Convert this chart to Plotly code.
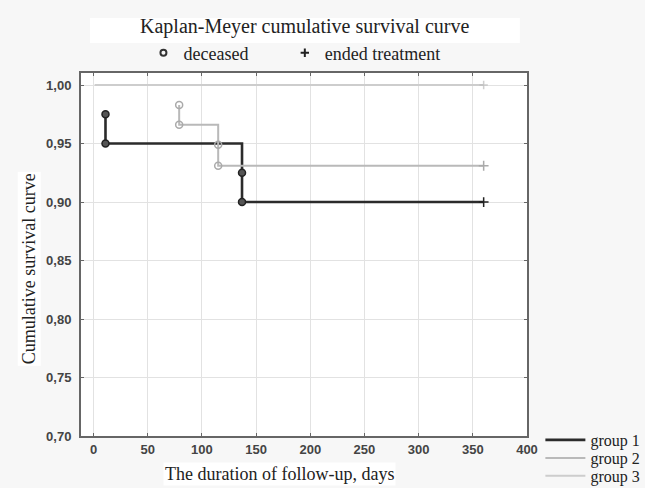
import plotly.graph_objects as go

# ---- data ----
g1_days = [11, 11, 137, 137, 360]
g1_surv = [0.975, 0.95, 0.925, 0.90, 0.90]
g1_sym = ["circle", "circle", "circle", "circle", "cross-thin"]

g2_days = [79, 79, 115, 115, 360]
g2_surv = [0.983, 0.966, 0.949, 0.931, 0.931]
g2_sym = ["circle-open", "circle-open", "circle-open", "circle-open", "cross-thin"]

g3_days = [1, 360]
g3_surv = [1.00, 1.00]
g3_sym = ["circle-open", "cross-thin"]
g3_size = [0, 6]

group_names = ["group 1", "group 2", "group 3"]
group_colors = ["#2b2b2b", "#b9b9b9", "#cdcdcd"]
group_widths = [2.6, 2, 2]
x_ticks = [0, 50, 100, 150, 200, 250, 300, 350, 400]
y_ticks = [0.70, 0.75, 0.80, 0.85, 0.90, 0.95, 1.00]

SERIF = "Liberation Serif"
SANS = "Liberation Sans"

fig = go.Figure()

fig.add_trace(go.Scatter(
    x=g1_days, y=g1_surv, mode="lines+markers", line_shape="hv",
    name=group_names[0], showlegend=False,
    line=dict(color=group_colors[0], width=group_widths[0]),
    marker=dict(symbol=g1_sym, size=7, color="#555555",
                line=dict(color="#222222", width=1.5)),
))
fig.add_trace(go.Scatter(
    x=g2_days, y=g2_surv, mode="lines+markers", line_shape="hv",
    name=group_names[1], showlegend=False,
    line=dict(color=group_colors[1], width=group_widths[1]),
    marker=dict(symbol=g2_sym, size=7, color="#aaaaaa",
                line=dict(color="#aaaaaa", width=1.5)),
))
fig.add_trace(go.Scatter(
    x=g3_days, y=g3_surv, mode="lines+markers", line_shape="hv",
    name=group_names[2], showlegend=False,
    line=dict(color=group_colors[2], width=group_widths[2]),
    marker=dict(symbol=g3_sym, size=g3_size, color="#bbbbbb",
                line=dict(color="#bbbbbb", width=1.5)),
))

# group key (lines only), one legend box per row
group_legends = ["legend", "legend2", "legend3"]
for name, col, w, lg in zip(group_names, group_colors, group_widths, group_legends):
    fig.add_trace(go.Scatter(
        x=[None], y=[None], mode="lines", name=name,
        line=dict(color=col, width=w), legend=lg,
    ))

# marker key (deceased / ended treatment)
fig.add_trace(go.Scatter(
    x=[None], y=[None], mode="markers", name="deceased",
    marker=dict(symbol="circle-open", size=6, color="#333333",
                line=dict(color="#333333", width=2)),
    legend="legend4",
))
fig.add_trace(go.Scatter(
    x=[None], y=[None], mode="markers", name="ended treatment",
    marker=dict(symbol="cross-thin", size=6, color="#222222",
                line=dict(color="#222222", width=2)),
    legend="legend5",
))

axis_common = dict(
    showgrid=True, gridcolor="#e2e2e2", gridwidth=1,
    showline=True, linecolor="#666666", linewidth=2, mirror="ticks",
    ticks="inside", ticklen=3, tickcolor="#666666",
    zeroline=False,
    tickfont=dict(family=SANS, size=13, color="#444444", weight="bold"),
)

def grp_legend(y):
    return dict(x=1.03, xanchor="left", y=y, yanchor="middle",
                bgcolor="rgba(0,0,0,0)", itemwidth=40,
                font=dict(family=SERIF, size=16, color="#222222"))

def key_legend(x):
    return dict(x=x, xanchor="left", y=1.055, yanchor="middle",
                bgcolor="rgba(0,0,0,0)",
                font=dict(family=SERIF, size=18, color="#222222"))

fig.update_layout(
    width=645, height=488,
    margin=dict(l=81, r=118, t=73, b=52, autoexpand=False),
    paper_bgcolor="#f7f7f7",
    plot_bgcolor="#ffffff",
    separators=", ",
    showlegend=True,
    xaxis=dict(range=[-11.6, 400], tickvals=x_ticks, **axis_common),
    yaxis=dict(range=[0.70, 1.0103], tickvals=y_ticks, tickformat=".2f",
               ticklabelstandoff=5, **axis_common),
    legend=grp_legend(-0.011),
    legend2=grp_legend(-0.0606),
    legend3=grp_legend(-0.110),
    legend4=key_legend(0.14),
    legend5=key_legend(0.457),
    shapes=[
        dict(type="rect", xref="paper", yref="paper", x0=0.02, x1=0.984, y0=1.0826, y1=1.1515,
             fillcolor="#ffffff", line=dict(width=0), layer="below"),
    ],
    annotations=[
        dict(text="Kaplan-Meyer cumulative survival curve", xref="paper", yref="paper",
             x=0.5, y=1.127, xanchor="center", yanchor="middle", showarrow=False,
             font=dict(family=SERIF, size=20, color="#222222")),
        dict(text="The duration of follow-up, days", xref="paper", yref="paper",
             x=0.446, y=-0.105, xanchor="center", yanchor="middle", showarrow=False,
             font=dict(family=SERIF, size=18, color="#222222"), bgcolor="#ffffff"),
        dict(text="Cumulative survival curve", xref="paper", yref="paper",
             x=-0.116, y=0.46, xanchor="center", yanchor="middle", showarrow=False,
             textangle=-90,
             font=dict(family=SERIF, size=18, color="#222222"), bgcolor="#ffffff"),
    ],
)

fig.write_html("out.html")
